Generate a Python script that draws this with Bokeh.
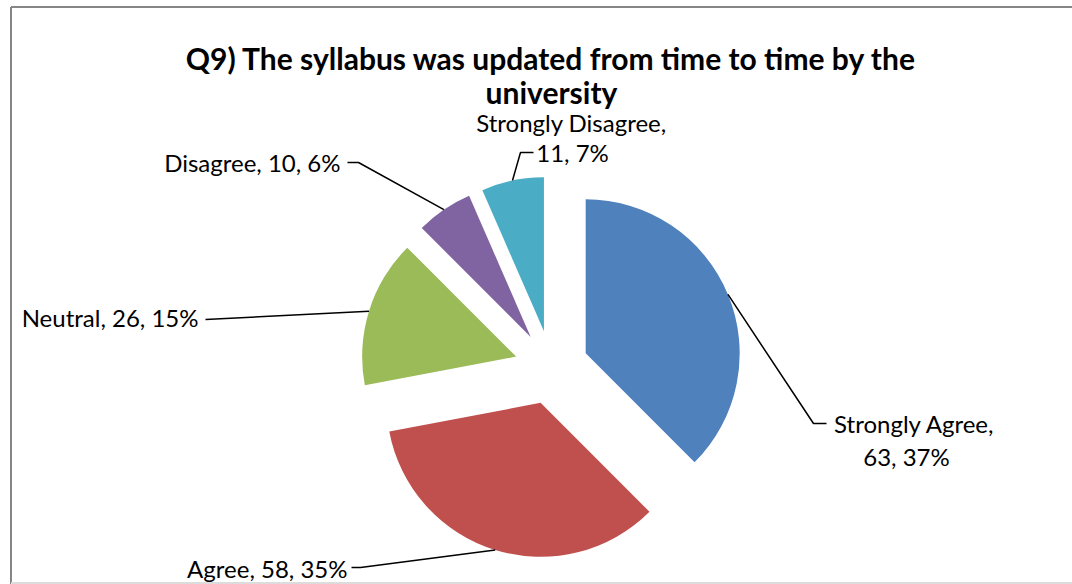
import math
from bokeh.plotting import figure
from bokeh.models import Range1d, ColumnDataSource
from bokeh.core.properties import value
from bokeh.embed import file_html
from bokeh.resources import INLINE

# ---- data ----
categories = ["Strongly Agree", "Agree", "Neutral", "Disagree", "Strongly Disagree"]
counts = [63, 58, 26, 10, 11]
percents = [37, 35, 15, 6, 7]
colors = ["#4F81BD", "#C0504D", "#9BBB59", "#8064A2", "#4BACC6"]
title_lines = ["Q9) The syllabus was updated from time to time by the", "university"]

# ---- layout (pixel space, y up) ----
W, H = 1072, 584
def px(x):  # picture x -> plot x
    return x
def py(y):  # picture y -> plot y
    return H - y

CX, CY = px(551), py(367)
R = 154
EXPLODE = 37
FONT = "Lato"

p = figure(width=W, height=H, output_backend="svg", toolbar_location=None,
           x_range=Range1d(0, W), y_range=Range1d(0, H),
           x_axis_type=None, y_axis_type=None, min_border=0,
           outline_line_color=None, background_fill_color="white",
           border_fill_color="white")
p.grid.visible = False

total = sum(counts)
cum = 0.0
xs, ys, starts, ends, mids = [], [], [], [], []
for c in counts:
    a0 = cum / total * 2 * math.pi
    cum += c
    a1 = cum / total * 2 * math.pi
    m = math.pi / 2 - (a0 + a1) / 2
    xs.append(CX + EXPLODE * math.cos(m))
    ys.append(CY + EXPLODE * math.sin(m))
    starts.append(math.pi / 2 - a1)
    ends.append(math.pi / 2 - a0)
    mids.append(m)

src = ColumnDataSource(dict(x=xs, y=ys, start=starts, end=ends, color=colors,
                            cat=categories))
p.wedge(x="x", y="y", radius=R, start_angle="start", end_angle="end",
        direction="anticlock", fill_color="color", line_color=None, source=src)

# arc midpoints (leader line anchors)
arc_pts = [(xs[i] + R * math.cos(mids[i]), ys[i] + R * math.sin(mids[i]))
           for i in range(len(counts))]

label_layout = {
    "Strongly Agree": dict(lines=2, x=[914, 906], base=[423, 456], align="center",
                           path=[(813, 423), (826, 423)]),
    "Agree": dict(lines=1, x=[347], base=[568], align="right",
                  path=[(360, 567), (351, 567)]),
    "Neutral": dict(lines=1, x=[198], base=[317], align="right",
                    path=[(205, 319)]),
    "Disagree": dict(lines=1, x=[340], base=[162], align="right",
                     path=[(358, 162), (347, 162)]),
    "Strongly Disagree": dict(lines=2, x=[571, 572], base=[122, 152], align="center",
                              path=[(520, 152), (533, 152)]),
}

for i, cat in enumerate(categories):
    lay = label_layout[cat]
    if lay["lines"] == 2:
        texts = [f"{cat},", f"{counts[i]}, {percents[i]}%"]
    else:
        texts = [f"{cat}, {counts[i]}, {percents[i]}%"]
    for t, tx, tb in zip(texts, lay["x"], lay["base"]):
        p.text(x=[px(tx)], y=[py(tb)], text=[t], text_font=value(FONT),
               text_font_size="24px", text_color="black", text_align=lay["align"],
               text_baseline="alphabetic")
    lx = [arc_pts[i][0]] + [px(q[0]) for q in lay["path"]]
    ly = [arc_pts[i][1]] + [py(q[1]) for q in lay["path"]]
    p.line(lx, ly, line_color="black", line_width=1.5)

# title
for t, base in zip(title_lines, [57, 91]):
    p.text(x=[px(551)], y=[py(base)], text=[t], text_font=value(FONT),
           text_font_size="30px", text_font_style="bold", text_color="black",
           text_align="center", text_baseline="alphabetic")

# chart border (left & top visible in the reference, faint bottom)
p.line([px(10.5), px(10.5)], [0, py(6.5)], line_color="#868686", line_width=2)
p.line([px(10.5), W], [py(6.5), py(6.5)], line_color="#868686", line_width=2)
p.line([px(10.5), W], [py(582.5), py(582.5)], line_color="#dcdcdc", line_width=2)

open("out.html", "w").write(file_html(p, INLINE))
